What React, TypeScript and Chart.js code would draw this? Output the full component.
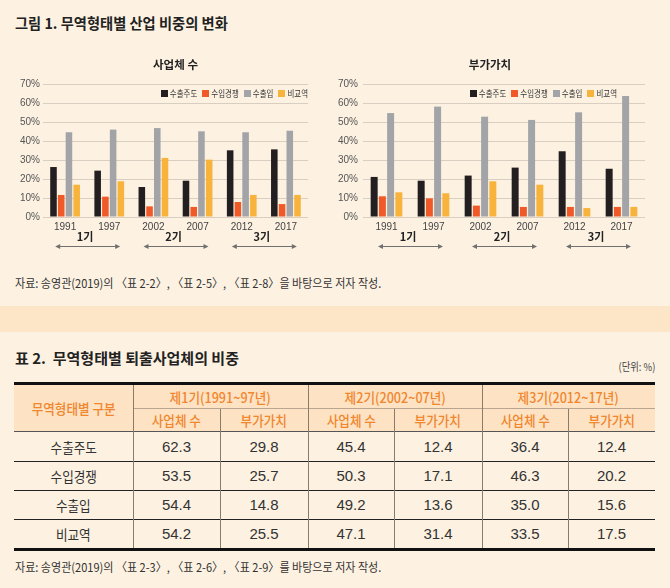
import React, { useEffect, useRef } from "react";
import { Chart, registerables } from "chart.js";

Chart.register(...registerables);

// ---------- DATA ----------
const years = ["1991", "1997", "2002", "2007", "2012", "2017"];
const seriesNames = ["수출주도", "수입경쟁", "수출입", "비교역"];
const seriesColors = ["#231f20", "#f05a28", "#a2a4a7", "#f8b33c"];
const periodLabels = ["1기", "2기", "3기"];
const yTickMax = 70;
const yTickStep = 10;

// 사업체 수 (%)
const firmsExportLed = [26.3, 24.4, 15.8, 19.1, 35.1, 35.6];
const firmsImportComp = [11.6, 10.7, 5.6, 5.3, 7.9, 6.8];
const firmsTwoWay = [44.6, 46.0, 46.8, 45.1, 44.6, 45.4];
const firmsNonTrade = [17.0, 18.8, 31.1, 30.2, 11.6, 11.6];

// 부가가치 (%)
const valueExportLed = [21.1, 19.1, 21.8, 26.0, 34.6, 25.4];
const valueImportComp = [10.9, 9.8, 6.0, 5.3, 5.3, 5.3];
const valueTwoWay = [54.7, 58.1, 52.8, 51.1, 55.1, 63.7];
const valueNonTrade = [13.0, 12.5, 18.8, 17.0, 4.7, 5.3];

// 표 2
const tableRowLabels = ["수출주도", "수입경쟁", "수출입", "비교역"];
const tablePeriods = ["제1기(1991~97년)", "제2기(2002~07년)", "제3기(2012~17년)"];
const tableSubHeads = ["사업체 수", "부가가치"];
const exitExportLed = [62.3, 29.8, 45.4, 12.4, 36.4, 12.4];
const exitImportComp = [53.5, 25.7, 50.3, 17.1, 46.3, 20.2];
const exitTwoWay = [54.4, 14.8, 49.2, 13.6, 35.0, 15.6];
const exitNonTrade = [54.2, 25.5, 47.1, 31.4, 33.5, 17.5];

// ---------- STYLE ----------
const FONT_KR = "'Noto Sans CJK KR', sans-serif";
const FONT_NUM = "'Liberation Sans Narrow', 'Liberation Sans', 'Noto Sans CJK KR', sans-serif";
const BG = "#fdf2e2";
const BAND = "#fde6c8";
const HEAD_BG = "#fde2c3";
const ORANGE = "#f0862e";

const insideLegend = {
  id: "insideLegend",
  afterDraw(chart: any, _args: any, opts: any) {
    const { ctx, chartArea } = chart;
    const sx = 0.83;
    ctx.save();
    ctx.font = `9px ${FONT_KR}`;
    ctx.textBaseline = "middle";
    ctx.textAlign = "left";
    const items = chart.data.datasets.map((d: any) => ({ label: d.label, color: d.backgroundColor }));
    const box = 7, gapBox = 2, gapItem = 5;
    const widths = items.map((it: any) => ctx.measureText(it.label).width * sx);
    const total = widths.reduce((a: number, w: number) => a + box + gapBox + w, 0) + gapItem * (items.length - 1);
    let x = chartArea.right - (opts.rightInset || 0) - total;
    const y = chartArea.top + 9;
    items.forEach((it: any, i: number) => {
      ctx.fillStyle = it.color;
      ctx.fillRect(Math.round(x), Math.round(y - box / 2), box, box);
      x += box + gapBox;
      ctx.save();
      ctx.translate(x, y + 0.5);
      ctx.scale(sx, 1);
      ctx.fillStyle = "#333";
      ctx.fillText(it.label, 0, 0);
      ctx.restore();
      x += widths[i] + gapItem;
    });
    ctx.restore();
  },
};

const periodMarks = {
  id: "periodMarks",
  afterDraw(chart: any, _args: any, opts: any) {
    const { ctx, chartArea } = chart;
    const xs = chart.scales.x;
    ctx.save();
    (opts.labels || []).forEach((lab: string, i: number) => {
      const a = xs.getPixelForValue(2 * i);
      const b = xs.getPixelForValue(2 * i + 1);
      const mid = (a + b) / 2;
      ctx.font = `bold 11px ${FONT_KR}`;
      ctx.fillStyle = "#222";
      ctx.textAlign = "center";
      ctx.textBaseline = "middle";
      ctx.fillText(lab, mid - 2, chartArea.bottom + 20);
      const y = Math.round(chartArea.bottom + 29) + 0.5;
      const x1 = mid - 32, x2 = mid + 33;
      ctx.strokeStyle = "#707070";
      ctx.fillStyle = "#707070";
      ctx.lineWidth = 1;
      ctx.beginPath();
      ctx.moveTo(x1 + 3, y);
      ctx.lineTo(x2 - 3, y);
      ctx.stroke();
      ctx.beginPath();
      ctx.moveTo(x1, y);
      ctx.lineTo(x1 + 5, y - 2.5);
      ctx.lineTo(x1 + 5, y + 2.5);
      ctx.closePath();
      ctx.fill();
      ctx.beginPath();
      ctx.moveTo(x2, y);
      ctx.lineTo(x2 - 5, y - 2.5);
      ctx.lineTo(x2 - 5, y + 2.5);
      ctx.closePath();
      ctx.fill();
    });
    ctx.restore();
  },
};

function makeConfig(title: string, series: number[][], o: any): any {
  return {
    type: "bar",
    data: {
      labels: years,
      datasets: seriesNames.map((n, i) => ({
        label: n,
        data: series[i],
        backgroundColor: seriesColors[i],
        borderWidth: 0,
        categoryPercentage: 0.7,
        barPercentage: 0.85,
      })),
    },
    options: {
      animation: false,
      responsive: false,
      layout: { padding: { left: 0, right: o.padRight, top: 8, bottom: 27 } },
      plugins: {
        legend: { display: false },
        tooltip: { enabled: false },
        title: {
          display: true,
          text: title,
          fullSize: o.fullSizeTitle,
          color: "#222",
          font: { size: 11.5, weight: "bold", family: FONT_KR },
          padding: { top: 0, bottom: 12.2 },
        },
        insideLegend: { rightInset: o.legendInset },
        periodMarks: { labels: periodLabels },
      },
      scales: {
        x: {
          grid: { display: false, drawTicks: false },
          border: { display: false },
          ticks: { font: { size: 10, family: FONT_NUM }, color: "#444", padding: 4, maxRotation: 0 },
          afterFit: (s: any) => { s.height = 16; },
        },
        y: {
          min: 0,
          max: yTickMax,
          grid: { color: "#d8cec2", drawTicks: false },
          border: { display: false },
          ticks: {
            stepSize: yTickStep,
            font: { size: 10, family: FONT_NUM },
            color: "#555",
            padding: o.yPad,
            callback: (v: any) => v + "%",
          },
          afterFit: (s: any) => { s.width = o.yWidth; },
        },
      },
    },
    plugins: [insideLegend, periodMarks],
  };
}

function BarChart({ title, series, o, left }: any) {
  const ref = useRef<HTMLCanvasElement | null>(null);
  useEffect(() => {
    if (!ref.current) return;
    const c = new Chart(ref.current, makeConfig(title, series, o));
    return () => c.destroy();
  }, []);
  return (
    <div style={{ position: "absolute", left, top: 50, width: 335, height: 210 }}>
      <canvas ref={ref} width={335} height={210} style={{ width: 335, height: 210, display: "block" }} />
    </div>
  );
}

function T({ children, sx = 1, origin = "center", style }: any) {
  return (
    <span style={{ display: "inline-block", whiteSpace: "nowrap", transform: `scaleX(${sx})`, transformOrigin: origin, ...style }}>
      {children}
    </span>
  );
}

const colX = [14, 133, 220, 308, 394, 482, 568, 655];
const rowY = [432, 461, 490, 519, 548];

function Cell({ x1, x2, y1, y2, children, style }: any) {
  return (
    <div style={{ position: "absolute", left: x1, top: y1, width: x2 - x1, height: y2 - y1, display: "flex", alignItems: "center", justifyContent: "center", ...style }}>
      {children}
    </div>
  );
}

function Line({ x, y, w, h, c }: any) {
  return <div style={{ position: "absolute", left: x, top: y, width: w, height: h, background: c }} />;
}

export default function App() {
  const tableValues = [exitExportLed, exitImportComp, exitTwoWay, exitNonTrade];
  return (
    <div style={{ position: "absolute", left: 0, top: 0, width: 670, height: 588, background: BG, overflow: "hidden", fontFamily: FONT_KR, color: "#333" }}>
      <div style={{ position: "absolute", left: 15, top: 13, fontSize: 15, fontWeight: 700, color: "#222", lineHeight: "20px" }}>
        <T sx={0.95} origin="left">그림 1. 무역형태별 산업 비중의 변화</T>
      </div>

      <BarChart
        title="사업체 수"
        series={[firmsExportLed, firmsImportComp, firmsTwoWay, firmsNonTrade]}
        left={0}
        o={{ padRight: 27, yWidth: 43, yPad: 3, fullSizeTitle: false, legendInset: 0 }}
      />
      <BarChart
        title="부가가치"
        series={[valueExportLed, valueImportComp, valueTwoWay, valueNonTrade]}
        left={335}
        o={{ padRight: 25, yWidth: 28, yPad: 5, fullSizeTitle: true, legendInset: 28 }}
      />

      <div style={{ position: "absolute", left: 15, top: 275, fontSize: 12, lineHeight: "16px", color: "#333" }}>
        <T sx={0.92} origin="left">자료: 송영관(2019)의 〈표 2-2〉, 〈표 2-5〉, 〈표 2-8〉을 바탕으로 저자 작성.</T>
      </div>

      <div style={{ position: "absolute", left: 0, top: 306, width: 670, height: 26, background: BAND }} />

      <div style={{ position: "absolute", left: 15, top: 348, fontSize: 15, fontWeight: 700, color: "#222", lineHeight: "20px" }}>
        <T sx={1} origin="left">표 2.&nbsp; 무역형태별 퇴출사업체의 비중</T>
      </div>
      <div style={{ position: "absolute", right: 15, top: 359, fontSize: 11, lineHeight: "14px", color: "#444" }}>
        <T sx={0.85} origin="right">(단위: %)</T>
      </div>

      {/* table */}
      <Line x={14} y={385} w={641} h={47} c={HEAD_BG} />
      <Line x={14} y={382} w={641} h={3} c="#111" />
      <Line x={133} y={408} w={522} h={1} c="#b9a590" />
      <Line x={14} y={431} w={641} h={1} c="#555" />
      {[461, 490, 519].map((y) => (
        <Line key={y} x={14} y={y} w={641} h={1} c="#222" />
      ))}
      <Line x={14} y={548} w={641} h={3} c="#111" />
      {[133, 308, 482].map((x) => (
        <Line key={x} x={x} y={385} w={1} h={163} c="#8b7b6b" />
      ))}
      {[220, 394, 568].map((x) => (
        <Line key={x} x={x} y={409} w={1} h={139} c="#8b7b6b" />
      ))}

      <Cell x1={14} x2={133} y1={385} y2={431} style={{ color: ORANGE, fontSize: 14, fontWeight: 500 }}>
        <T sx={0.9}>무역형태별 구분</T>
      </Cell>
      {tablePeriods.map((p, i) => (
        <Cell key={p} x1={colX[1 + 2 * i]} x2={colX[3 + 2 * i]} y1={385} y2={408} style={{ color: ORANGE, fontSize: 14, fontWeight: 500 }}>
          <T sx={0.9}>{p}</T>
        </Cell>
      ))}
      {[0, 1, 2, 3, 4, 5].map((j) => (
        <Cell key={j} x1={colX[1 + j]} x2={colX[2 + j]} y1={409} y2={431} style={{ color: ORANGE, fontSize: 14, fontWeight: 500 }}>
          <T sx={0.9}>{tableSubHeads[j % 2]}</T>
        </Cell>
      ))}
      {tableRowLabels.map((r, i) => (
        <React.Fragment key={r}>
          <Cell x1={colX[0]} x2={colX[1]} y1={rowY[i]} y2={rowY[i + 1]} style={{ fontSize: 14, color: "#333" }}>
            <T sx={0.9}>{r}</T>
          </Cell>
          {tableValues[i].map((v, j) => (
            <Cell key={j} x1={colX[1 + j]} x2={colX[2 + j]} y1={rowY[i]} y2={rowY[i + 1]} style={{ fontSize: 15, color: "#333", fontFamily: FONT_NUM }}>
              {v.toFixed(1)}
            </Cell>
          ))}
        </React.Fragment>
      ))}

      <div style={{ position: "absolute", left: 15, top: 559, fontSize: 12, lineHeight: "16px", color: "#333" }}>
        <T sx={0.92} origin="left">자료: 송영관(2019)의 〈표 2-3〉, 〈표 2-6〉, 〈표 2-9〉를 바탕으로 저자 작성.</T>
      </div>
    </div>
  );
}
